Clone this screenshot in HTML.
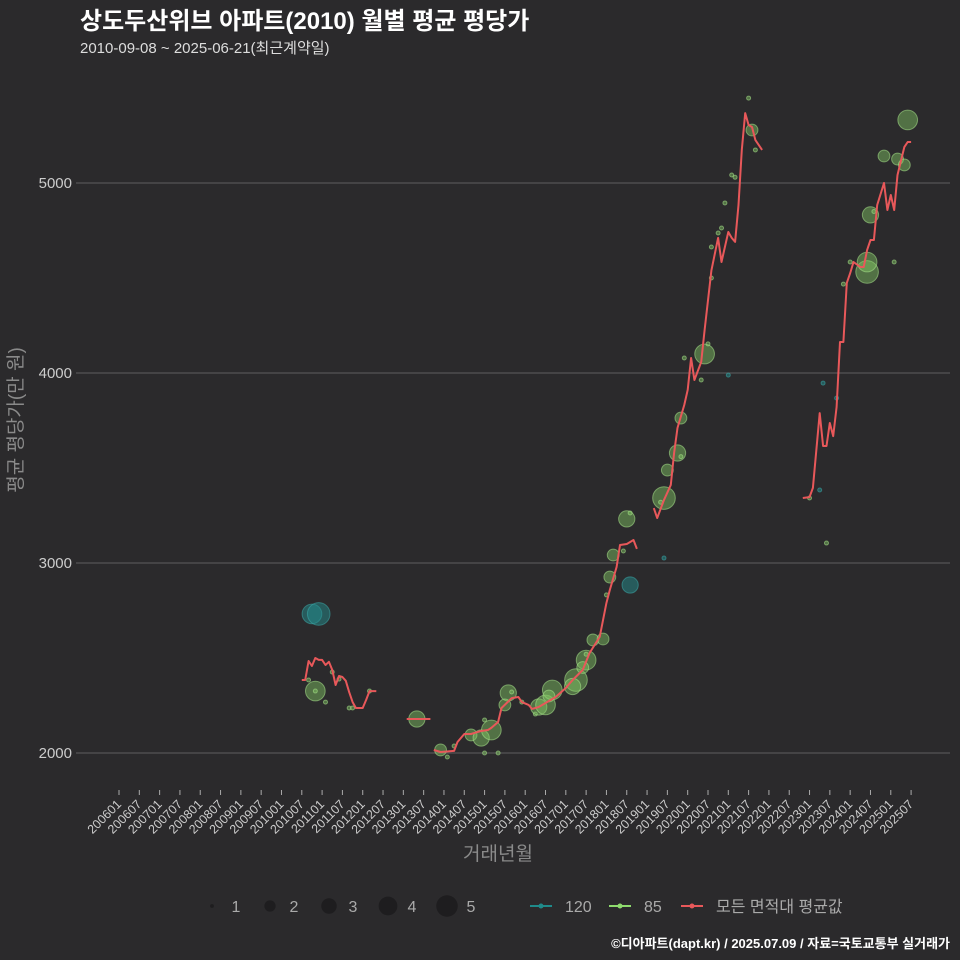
<!DOCTYPE html>
<html><head><meta charset="utf-8">
<style>
html,body{margin:0;padding:0;background:#2b2a2c;}
svg{display:block;font-family:"Liberation Sans","Noto Sans CJK KR",sans-serif;}
</style></head>
<body>
<svg id="chart" width="960" height="960" viewBox="0 0 960 960">
<rect width="960" height="960" fill="#2b2a2c"/>
<text x="80" y="29" fill="#ffffff" font-size="24" font-weight="bold">상도두산위브 아파트(2010) 월별 평균 평당가</text>
<text x="80" y="53" fill="#dddddd" font-size="15">2010-09-08 ~ 2025-06-21(최근계약일)</text>
<g id="grid"></g>
<g id="yticks"></g>
<g id="xticks"></g>
<g id="bubbles"></g>
<g id="lines"></g>
<text transform="translate(22,420) rotate(-90)" text-anchor="middle" fill="#8a8a8a" font-size="19">평균 평당가(만 원)</text>
<text x="498" y="860" text-anchor="middle" fill="#8a8a8a" font-size="19">거래년월</text>
<g id="legend"></g>
<text x="950" y="948" text-anchor="end" fill="#ffffff" font-size="13" font-weight="bold">©디아파트(dapt.kr) / 2025.07.09 / 자료=국토교통부 실거래가</text>
</svg>
<script>
const yTicks=[2000,3000,4000,5000];
const xTickLabels=["200601","200607","200701","200707","200801","200807","200901","200907","201001","201007","201101","201107","201201","201207","201301","201307","201401","201407","201501","201507","201601","201607","201701","201707","201801","201807","201901","201907","202001","202007","202101","202107","202201","202207","202301","202307","202401","202407","202501","202507"];
// average line (null = gap)
const lineMonths=["201007","201008","201009","201010","201011","201012","201101","201102","201103","201104","201105","201106","201107","201108","201109","201110","201111","201112","201201","201202","201203","201204","201205",null,
"201302","201309",null,
"201310","201312","201404","201405","201406","201407","201409","201411","201412","201502","201503","201505","201506","201509","201511","201512","201602","201603","201605","201607","201610","201701","201703","201706","201708","201711","201801","201802","201804","201805","201807","201809","201810",null,
"201903","201904","201906","201908","201909","201910","201912","202001","202002","202003","202005","202006","202008","202010","202011","202101","202102","202103","202104","202105","202106","202107","202108","202109","202111",null,
"202211","202301","202302","202304","202305","202306","202307","202308","202309","202310","202311","202312","202401","202402","202404","202405","202406","202407","202408","202409","202411","202412","202501","202502","202503","202505","202506","202507"];
const lineVals=[2384,2384,2484,2458,2500,2490,2490,2463,2480,2437,2358,2405,2400,2380,2320,2268,2237,2237,2237,2279,2326,2326,2326,null,
2179,2179,null,
2016,2005,2011,2058,2079,2100,2100,2111,2116,2121,2132,2163,2237,2289,2295,2268,2253,2232,2242,2263,2295,2342,2384,2437,2526,2611,2789,2858,2979,3095,3100,3121,3074,null,
3289,3237,3332,3411,3579,3711,3832,3911,4079,3963,4058,4226,4540,4711,4584,4742,4711,4690,4884,5174,5368,5305,5295,5226,5174,null,
3342,3347,3395,3789,3616,3616,3737,3668,3821,4163,4163,4474,4526,4584,4558,4558,4647,4700,4700,4884,5000,4858,4937,4858,5042,5189,5216,5216];
// bubbles: type 120
const b120Months=["201010","201012","201808","201906","202101","202305","202304","202309"];
const b120Vals=[2732,2732,2884,3026,3989,3947,3384,3868];
const b120Counts=[4,5,3,1,1,1,1,1];
// bubbles: type 85
const b85Months=["201011","201011","201102","201009","201104","201106","201109","201110","201203","201305",
"201312","201402","201404","201501","201505","201501","201409","201412","201503","201508","201507","201509","201512","201604","201605","201607","201609","201608","201704","201703","201707","201706","201709","201712","201707","201802","201803","201806","201807","201808","201801",
"201906","201905","201907","201910","201911","201911","201912","202006","202005","202007","202008","202008","202010","202011","202012","202102","202103","202107","202108","202109",
"202301","202306","202311","202401","202406","202406","202407","202408","202411","202502","202503","202505","202506"];
const b85Vals=[2326,2326,2268,2384,2426,2389,2237,2237,2326,2179,
2016,1979,2037,2000,2000,2174,2095,2079,2121,2316,2253,2321,2268,2205,2242,2253,2332,2300,2384,2350,2489,2450,2595,2600,2520,2926,3042,3063,3232,3263,2832,
3342,3320,3489,3579,3763,3560,4079,4100,3963,4153,4500,4663,4737,4763,4895,5042,5030,5447,5279,5174,
3342,3105,4468,4584,4532,4584,4832,4850,5142,4584,5126,5095,5332];
const b85Counts=[4,1,1,1,1,1,1,1,1,3,
2,1,1,1,1,1,2,3,4,3,2,1,1,1,3,4,4,2,5,3,4,2,2,2,1,2,2,1,3,1,1,
5,1,2,3,2,1,1,4,1,1,1,1,1,1,1,1,1,1,2,1,
1,1,1,1,5,4,3,1,2,1,2,2,4];
const legendSizes=[1,2,3,4,5];

const NS="http://www.w3.org/2000/svg";
const X0=119, PXM=3.385, Y0=753, PYV=0.19;
function mIdx(ym){return (parseInt(ym.slice(0,4))-2006)*12+parseInt(ym.slice(4,6))-1;}
function xS(ym){return X0+mIdx(ym)*PXM;}
function yS(v){return Y0-(v-2000)*PYV;}
function rS(n){return Math.sqrt(4+(n-1)*31);}
function mk(tag,attrs,parent){const e=document.createElementNS(NS,tag);for(const k in attrs)e.setAttribute(k,attrs[k]);parent.appendChild(e);return e;}

const grid=document.getElementById('grid'), yt=document.getElementById('yticks');
yTicks.forEach(v=>{
  const l=mk('line',{x1:76,x2:950,y1:yS(v),y2:yS(v),stroke:'#5f5f60','stroke-width':1},grid);
  
  
  const t=mk('text',{x:72,y:yS(v)+5,'text-anchor':'end',fill:'#cccccc','font-size':15},yt);
  t.textContent=v;
  
  
});
const xt=document.getElementById('xticks');
xTickLabels.forEach(lab=>{
  const x=xS(lab);
  const tk=mk('line',{x1:x,x2:x,y1:790,y2:795,stroke:'#aaaaaa','stroke-width':1},xt);
  
  
  const t=mk('text',{transform:`translate(${x+3},${805}) rotate(-45)`,'text-anchor':'end',fill:'#cccccc','font-size':12.5},xt);
  t.textContent=lab;
  
  
});
const bg=document.getElementById('bubbles');
function drawB(ms,vs,cs,fill,stroke,name){
  ms.forEach((m,i)=>{
    const c=mk('circle',{cx:xS(m),cy:yS(vs[i]),r:rS(cs[i]),fill:fill,stroke:stroke,'stroke-width':1},bg);
    
    
  });
}
drawB(b120Months,b120Vals,b120Counts,'rgba(35,140,140,0.5)','rgba(60,170,170,0.55)','bubble-120');
drawB(b85Months,b85Vals,b85Counts,'rgba(130,200,100,0.45)','rgba(170,230,140,0.55)','bubble-85');
const lg=document.getElementById('lines');
let pts=[];
function flush(){if(pts.length){const p=mk('polyline',{points:pts.join(' '),fill:'none',stroke:'#e8585a','stroke-width':2,'stroke-linejoin':'round'},lg);
  
  } pts=[];}
lineMonths.forEach((m,i)=>{ if(m===null||lineVals[i]===null){flush();return;} pts.push(xS(m).toFixed(1)+','+yS(lineVals[i]).toFixed(1)); });
flush();
// legend
const leg=document.getElementById('legend');
const lx=[212,270,329,388,447];
legendSizes.forEach((s,i)=>{
  const c=mk('circle',{cx:lx[i],cy:906,r:rS(s)*0.95,fill:'#1e1d1f'},leg);
  
  
  const t=mk('text',{x:lx[i]+24,y:912,'text-anchor':'middle',fill:'#aaaaaa','font-size':16},leg);
  t.textContent=s;
  
  
});
const items=[[530,'#1f8a8a','120'],[609,'#8fdc6e','85'],[681,'#e8585a','모든 면적대 평균값']];
items.forEach(it=>{
  const g=mk('g',{},leg);
  
  
  mk('line',{x1:it[0],x2:it[0]+22,y1:906,y2:906,stroke:it[1],'stroke-width':2},g);
  mk('circle',{cx:it[0]+11,cy:906,r:2.5,fill:it[1]},g);
  const t=mk('text',{x:it[0]+35,y:912,fill:'#aaaaaa','font-size':16},g);
  t.textContent=it[2];
});
</script>
</body></html>
